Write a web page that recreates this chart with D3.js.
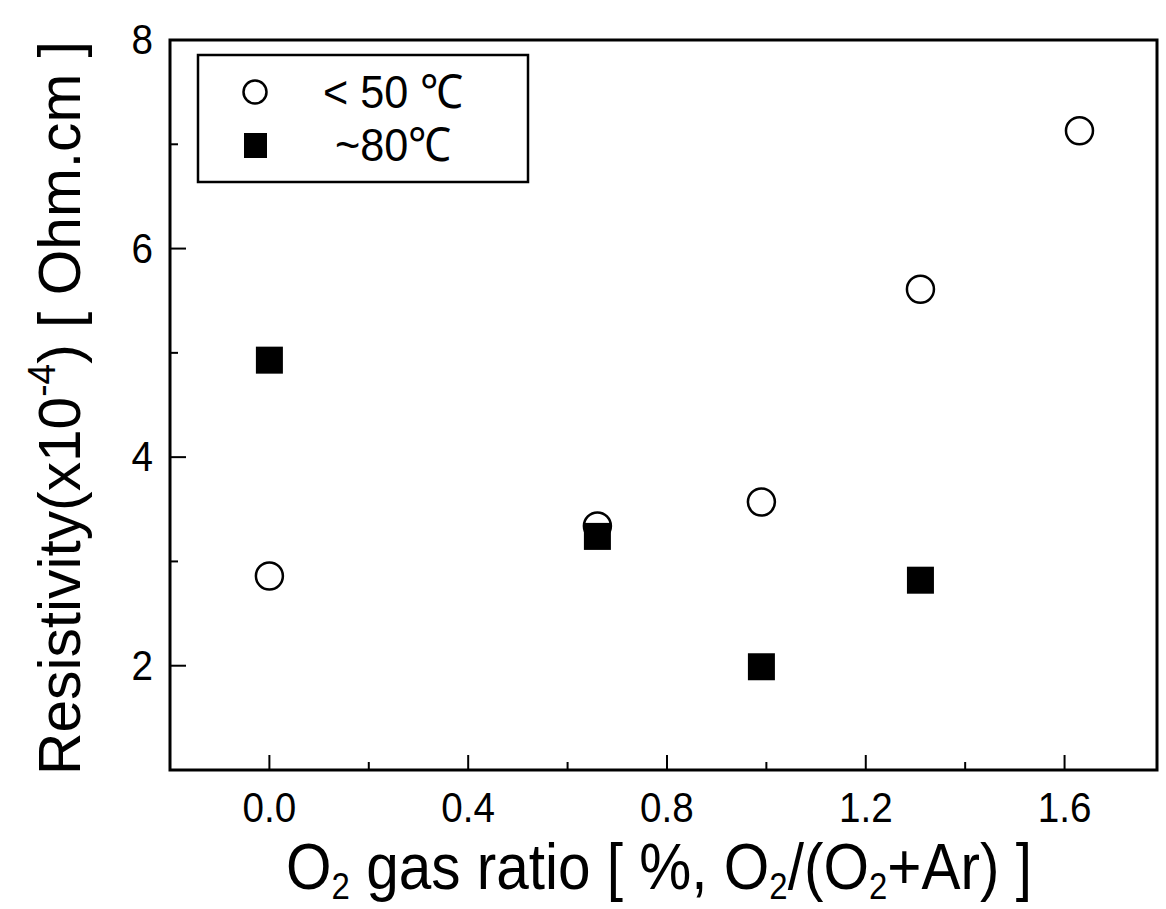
<!DOCTYPE html>
<html>
<head>
<meta charset="utf-8">
<script src="https://cdn.jsdelivr.net/npm/d3@7"></script>
<style>
  body { margin: 0; background: #fff; }
  text { font-family: "Liberation Sans", Arial, sans-serif; fill: #000; }
</style>
</head>
<body>
<div id="chart"></div>
<script>
// data
var lowTempX = [0.0, 0.66, 0.99, 1.31, 1.63];
var lowTempY = [2.86, 3.34, 3.57, 5.61, 7.13];
var highTempX = [0.0, 0.66, 0.99, 1.31];
var highTempY = [4.93, 3.24, 1.99, 2.82];
var xTicks = [0.0, 0.4, 0.8, 1.2, 1.6];
var yTicks = [2, 4, 6, 8];

var width = 1166, height = 909;
var margin = { left: 170, right: 9, top: 40, bottom: 139 };

var svg = d3.select('#chart').append('svg')
    .attr('width', width)
    .attr('height', height);

var x = d3.scaleLinear()
    .domain([-0.2, 1.786])
    .range([margin.left, width - margin.right]);
var y = d3.scaleLinear()
    .domain([1, 8])
    .range([height - margin.bottom, margin.top]);

var x0 = margin.left, x1 = width - margin.right;
var y0 = height - margin.bottom, y1 = margin.top;

// minor ticks
var xMinor = d3.range(-0.2, 1.79, 0.2).filter(function (d) {
    return Math.abs(Math.round(d / 0.4) * 0.4 - d) > 0.01;
});
var yMinor = [1, 3, 5, 7];

svg.selectAll('.xminor').data(xMinor).enter().append('line')
    .attr('x1', function (d) { return x(d); })
    .attr('x2', function (d) { return x(d); })
    .attr('y1', y0).attr('y2', y0 - 8)
    .attr('stroke', '#000').attr('stroke-width', 2);
svg.selectAll('.xmajor').data(xTicks).enter().append('line')
    .attr('x1', function (d) { return x(d); })
    .attr('x2', function (d) { return x(d); })
    .attr('y1', y0).attr('y2', y0 - 15)
    .attr('stroke', '#000').attr('stroke-width', 2);
svg.selectAll('.yminor').data(yMinor).enter().append('line')
    .attr('x1', x0).attr('x2', x0 + 8)
    .attr('y1', function (d) { return y(d); })
    .attr('y2', function (d) { return y(d); })
    .attr('stroke', '#000').attr('stroke-width', 2);
svg.selectAll('.ymajor').data(yTicks).enter().append('line')
    .attr('x1', x0).attr('x2', x0 + 16)
    .attr('y1', function (d) { return y(d); })
    .attr('y2', function (d) { return y(d); })
    .attr('stroke', '#000').attr('stroke-width', 2);

// frame
svg.append('rect')
    .attr('x', x0).attr('y', y1)
    .attr('width', x1 - x0).attr('height', y0 - y1)
    .attr('fill', 'none').attr('stroke', '#000').attr('stroke-width', 3);

// tick labels (slightly condensed like the scan)
svg.selectAll('.xlab').data(xTicks).enter().append('text')
    .attr('transform', function (d) { return 'translate(' + x(d) + ',822) scale(0.92,1)'; })
    .attr('text-anchor', 'middle')
    .style('font-size', '42px')
    .text(function (d) { return d3.format('.1f')(d); });
svg.selectAll('.ylab').data(yTicks).enter().append('text')
    .attr('transform', function (d) { return 'translate(153,' + (y(d) + 14) + ') scale(0.92,1)'; })
    .attr('text-anchor', 'end')
    .style('font-size', '42px')
    .text(function (d) { return d; });

// axis titles
var xg = svg.append('g');
var xt = xg.append('text')
    .attr('text-anchor', 'middle')
    .style('font-size', '64px');
xt.append('tspan').text('O');
xt.append('tspan').attr('dy', 10).style('font-size', '36px').text('2');
xt.append('tspan').attr('dy', -10).text(' gas ratio [ %, O');
xt.append('tspan').attr('dy', 10).style('font-size', '36px').text('2');
xt.append('tspan').attr('dy', -10).text('/(O');
xt.append('tspan').attr('dy', 10).style('font-size', '36px').text('2');
xt.append('tspan').attr('dy', -10).text('+Ar) ]');
var xw = xt.node().getBBox().width;
xg.attr('transform', 'translate(659,889) scale(' + (746 / xw) + ',1)');

var yg = svg.append('g');
var yt = yg.append('text')
    .attr('text-anchor', 'middle')
    .style('font-size', '60px');
yt.append('tspan').text('Resistivity(x10');
yt.append('tspan').attr('dy', -25).style('font-size', '38px').text('-4');
yt.append('tspan').attr('dy', 25).text(') [ Ohm.cm ]');
var yw = yt.node().getBBox().width;
yg.attr('transform', 'translate(80,408) rotate(-90) scale(' + (734 / yw) + ',1)');

// points
svg.selectAll('.circ').data(lowTempX).enter().append('circle')
    .attr('cx', function (d) { return x(d); })
    .attr('cy', function (d, i) { return y(lowTempY[i]); })
    .attr('r', 13.5)
    .attr('fill', '#fff').attr('stroke', '#000').attr('stroke-width', 2.5);
svg.selectAll('.sq').data(highTempX).enter().append('rect')
    .attr('x', function (d) { return x(d) - 13.5; })
    .attr('y', function (d, i) { return y(highTempY[i]) - 13.5; })
    .attr('width', 27).attr('height', 27)
    .attr('fill', '#000');

// legend
var lg = svg.append('g');
lg.append('rect')
    .attr('x', 198).attr('y', 55).attr('width', 330).attr('height', 127)
    .attr('fill', '#fff').attr('stroke', '#000').attr('stroke-width', 2.5);
lg.append('circle').attr('cx', 255).attr('cy', 92).attr('r', 11.5)
    .attr('fill', '#fff').attr('stroke', '#000').attr('stroke-width', 2.5);
lg.append('rect').attr('x', 244).attr('y', 133).attr('width', 23).attr('height', 25)
    .attr('fill', '#000');
lg.append('text').attr('transform', 'translate(323,108) scale(0.92,1)').style('font-size', '47px').text('< 50 \u2103');
lg.append('text').attr('transform', 'translate(335,161) scale(0.92,1)').style('font-size', '47px').text('~80\u2103');
</script>
</body>
</html>
